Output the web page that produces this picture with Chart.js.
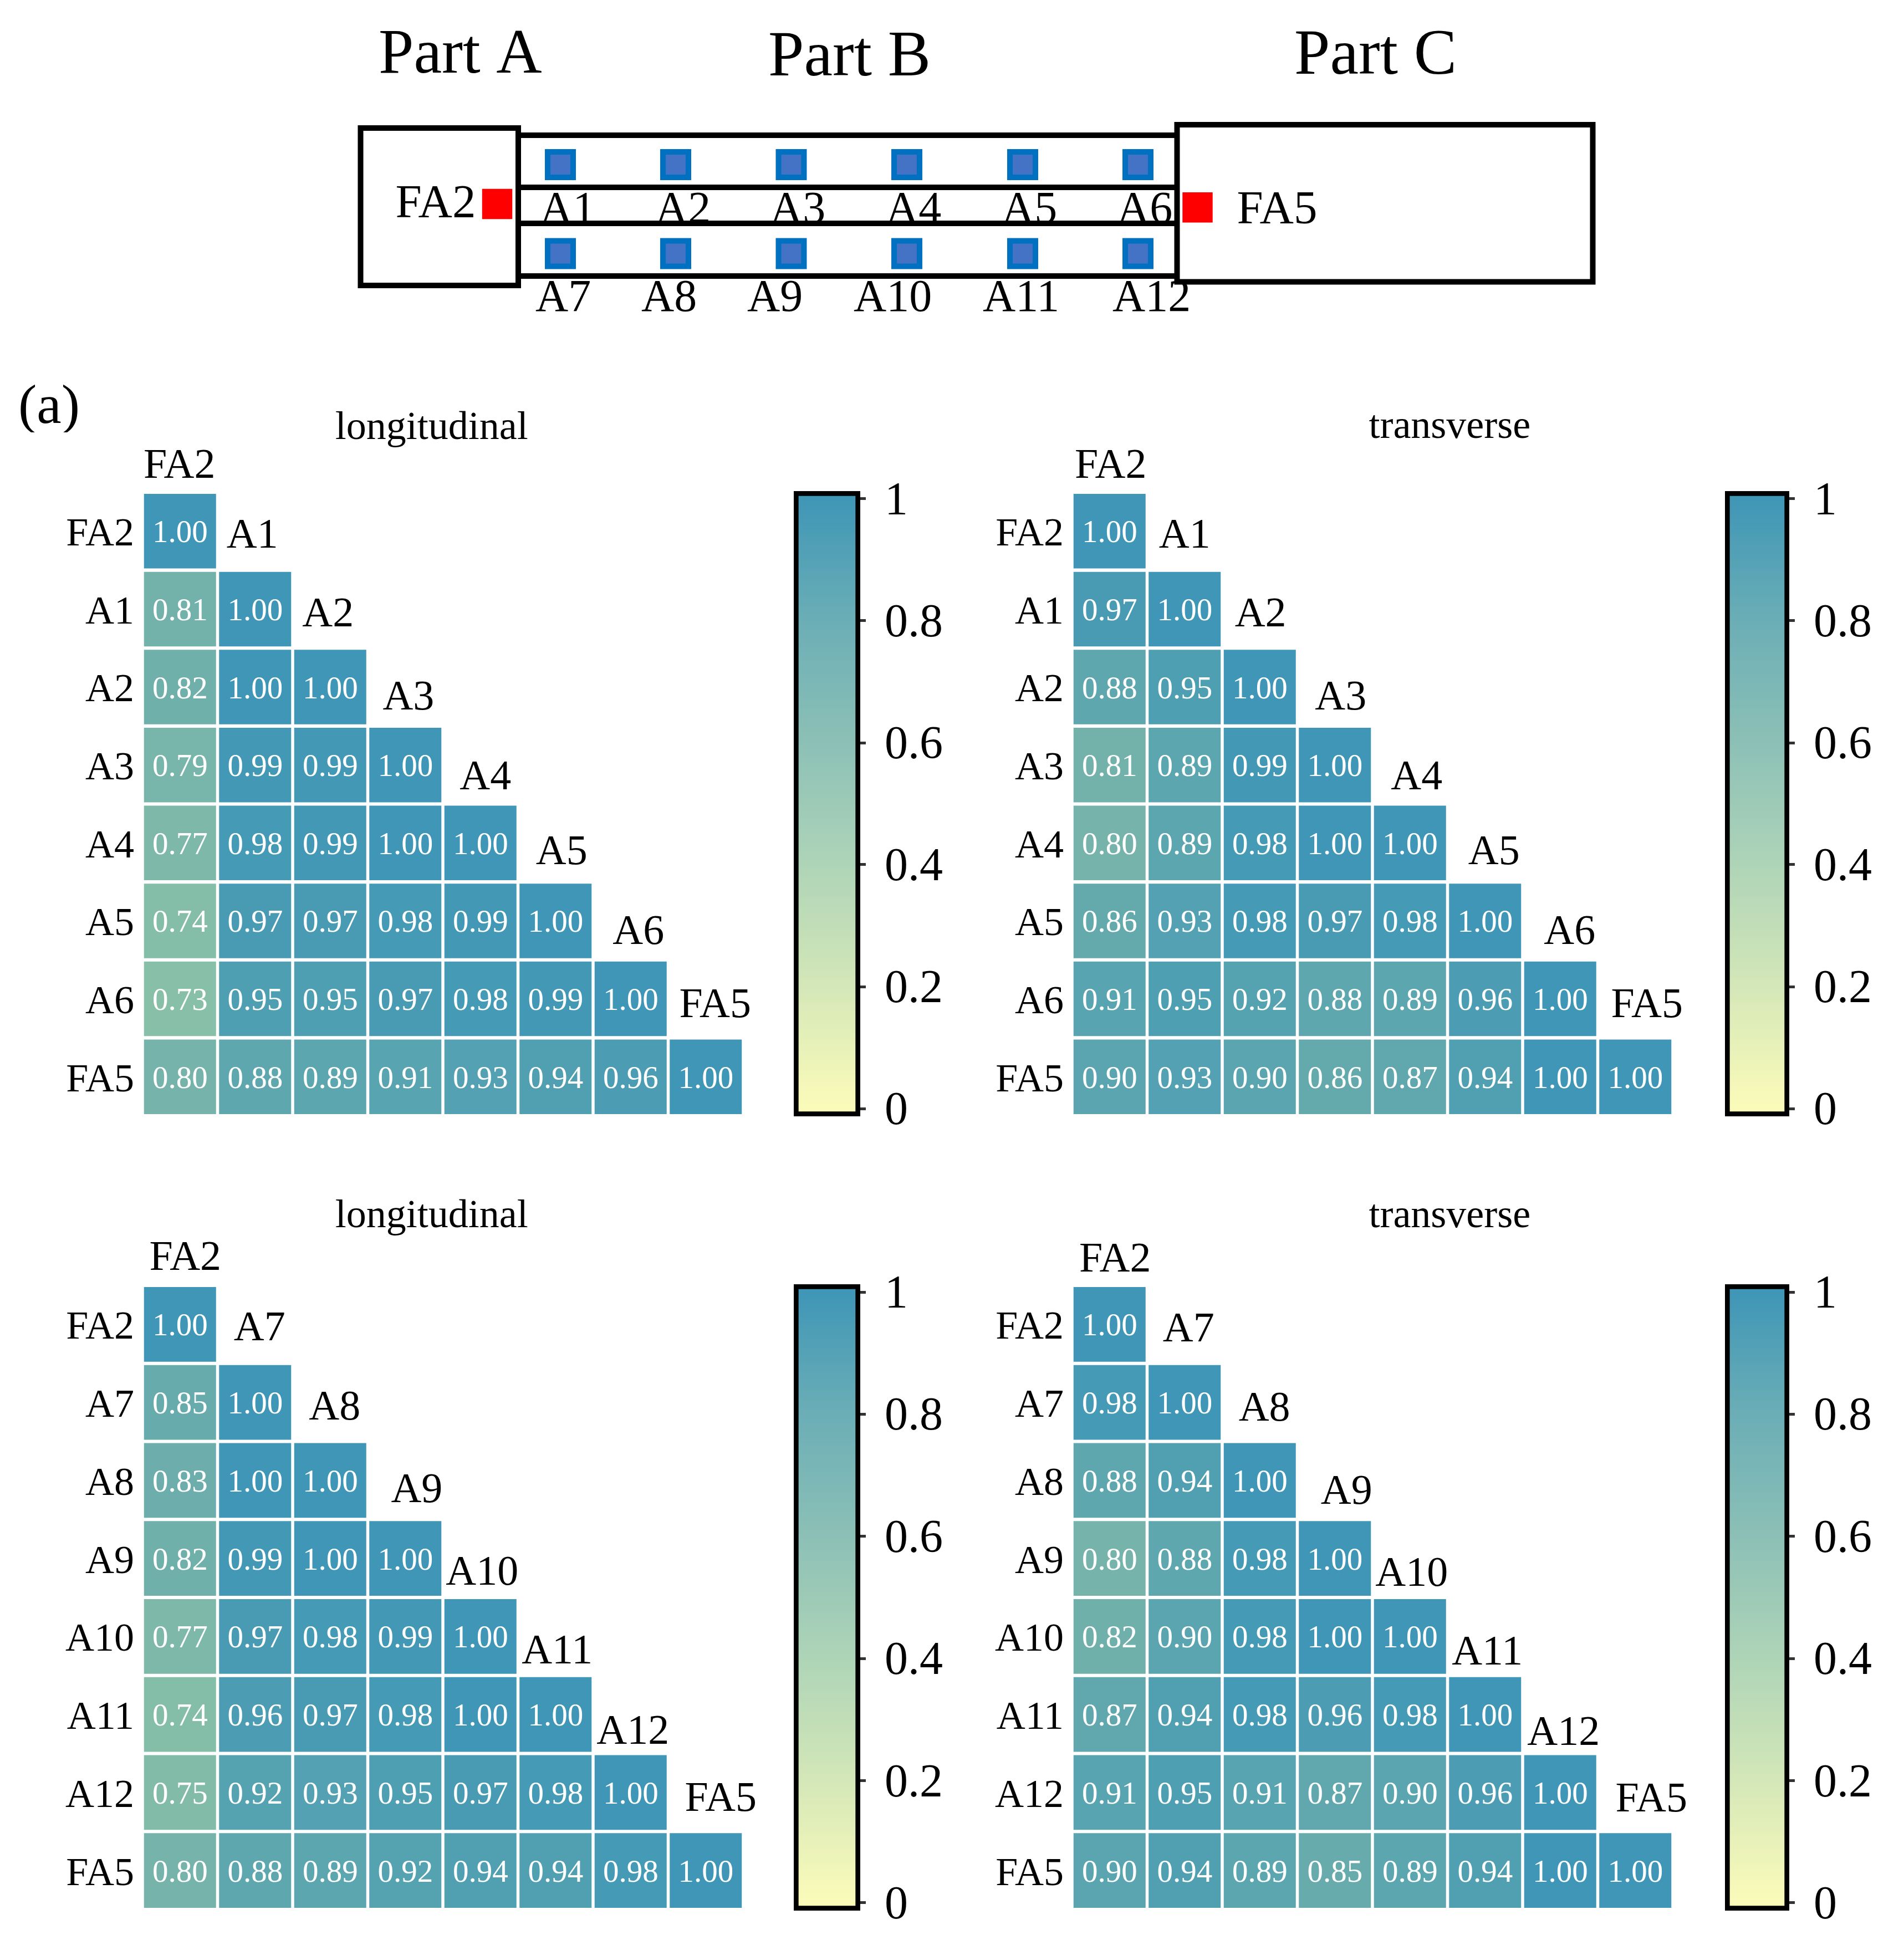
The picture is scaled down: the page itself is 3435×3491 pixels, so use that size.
<!DOCTYPE html>
<html>
<head>
<meta charset="utf-8">
<title>Correlation heatmaps</title>
<script src="https://cdn.jsdelivr.net/npm/chart.js@4"></script>
<style>
  html, body { margin: 0; padding: 0; background: #fff; }
  #page { position: relative; width: 3435px; height: 3491px; overflow: hidden; background: #fff; }
  canvas { position: absolute; }
</style>
</head>
<body>
<div id="page"></div>
<script>
const labelsUpper = ["FA2", "A1", "A2", "A3", "A4", "A5", "A6", "FA5"];
const labelsLower = ["FA2", "A7", "A8", "A9", "A10", "A11", "A12", "FA5"];

const longitudinalUpper = [
  [1.00],
  [0.81, 1.00],
  [0.82, 1.00, 1.00],
  [0.79, 0.99, 0.99, 1.00],
  [0.77, 0.98, 0.99, 1.00, 1.00],
  [0.74, 0.97, 0.97, 0.98, 0.99, 1.00],
  [0.73, 0.95, 0.95, 0.97, 0.98, 0.99, 1.00],
  [0.80, 0.88, 0.89, 0.91, 0.93, 0.94, 0.96, 1.00]
];
const transverseUpper = [
  [1.00],
  [0.97, 1.00],
  [0.88, 0.95, 1.00],
  [0.81, 0.89, 0.99, 1.00],
  [0.80, 0.89, 0.98, 1.00, 1.00],
  [0.86, 0.93, 0.98, 0.97, 0.98, 1.00],
  [0.91, 0.95, 0.92, 0.88, 0.89, 0.96, 1.00],
  [0.90, 0.93, 0.90, 0.86, 0.87, 0.94, 1.00, 1.00]
];
const longitudinalLower = [
  [1.00],
  [0.85, 1.00],
  [0.83, 1.00, 1.00],
  [0.82, 0.99, 1.00, 1.00],
  [0.77, 0.97, 0.98, 0.99, 1.00],
  [0.74, 0.96, 0.97, 0.98, 1.00, 1.00],
  [0.75, 0.92, 0.93, 0.95, 0.97, 0.98, 1.00],
  [0.80, 0.88, 0.89, 0.92, 0.94, 0.94, 0.98, 1.00]
];
const transverseLower = [
  [1.00],
  [0.98, 1.00],
  [0.88, 0.94, 1.00],
  [0.80, 0.88, 0.98, 1.00],
  [0.82, 0.90, 0.98, 1.00, 1.00],
  [0.87, 0.94, 0.98, 0.96, 0.98, 1.00],
  [0.91, 0.95, 0.91, 0.87, 0.90, 0.96, 1.00],
  [0.90, 0.94, 0.89, 0.85, 0.89, 0.94, 1.00, 1.00]
];

const colorbarTicks = [0, 0.2, 0.4, 0.6, 0.8, 1];

// schematic at the top, in page units
const sensorsTop = ["A1", "A2", "A3", "A4", "A5", "A6"];
const sensorsBottom = ["A7", "A8", "A9", "A10", "A11", "A12"];
const sensorX = [1011, 1219, 1427.5, 1636, 1845, 2053];
const sensorRowY = [297, 457.5];
const sensorTopLabelX = [974, 1182, 1389, 1598, 1807, 2015];
const sensorBottomLabelX = [966, 1157, 1348, 1540, 1773, 2007];
const forceSensors = [{ x: 897, y: 368 }, { x: 2160.5, y: 374.3 }];
const boxA = [[650.5, 231], [935, 231], [935, 515], [650.5, 515], [650.5, 231]];
const boxC = [[2123.5, 225], [2873.5, 225], [2873.5, 508.6], [2123.5, 508.6], [2123.5, 225]];
const railY = [244, 338, 403, 498];

const cellStops = [
  [0, "#fbfbb9"], [0.74, "#85bea8"], [0.81, "#73b1ab"],
  [0.88, "#5ea7ae"], [0.95, "#4f9fb3"], [1, "#3f96b6"]
];
const barStops = [
  [0, "#fbfbb9"], [0.2, "#d4e7b8"], [0.4, "#aed4b7"],
  [0.6, "#8cc0b6"], [0.8, "#6baeb6"], [1, "#3f96b6"]
];

const serif = '"Liberation Serif", "Times New Roman", serif';
const page = document.getElementById("page");
Chart.defaults.font.family = serif;
Chart.defaults.color = "#000";

function addCanvas(left, top, width, height) {
  const c = document.createElement("canvas");
  c.width = width;
  c.height = height;
  c.style.left = left + "px";
  c.style.top = top + "px";
  c.style.width = width + "px";
  c.style.height = height + "px";
  page.appendChild(c);
  return c;
}

function hexRgb(h) {
  return [1, 3, 5].map(i => parseInt(h.slice(i, i + 2), 16));
}

function cellColor(v) {
  for (let i = 1; i < cellStops.length; i++) {
    if (v <= cellStops[i][0]) {
      const [v0, c0] = cellStops[i - 1];
      const [v1, c1] = cellStops[i];
      const t = (v - v0) / (v1 - v0);
      const a = hexRgb(c0), b = hexRgb(c1);
      return "rgb(" + a.map((x, k) => Math.round(x + (b[k] - x) * t)).join(",") + ")";
    }
  }
  return cellStops[cellStops.length - 1][1];
}

function putText(ctx, text, x, y, size, align) {
  ctx.save();
  ctx.font = size + "px " + serif;
  ctx.fillStyle = "#000";
  ctx.textAlign = align || "left";
  ctx.textBaseline = "alphabetic";
  ctx.fillText(text, x, y);
  ctx.restore();
}

function drawDiagram() {
  const W = 3435, H = 780;
  const box = (pts, extra) => Object.assign({
    type: "line",
    data: pts.map(p => ({ x: p[0], y: p[1] })),
    borderColor: "#000",
    borderWidth: 10,
    pointRadius: 0,
    tension: 0,
    fill: false,
    borderJoinStyle: "miter",
    borderCapStyle: "square"
  }, extra || {});
  const rails = railY.map(y => box([[935, y], [2123, y]], { borderCapStyle: "butt" }));
  const sensorPts = [];
  sensorRowY.forEach(y => sensorX.forEach(x => sensorPts.push({ x: x, y: y })));

  const labels = {
    id: "diagramLabels",
    beforeDatasetsDraw(chart) {
      const ctx = chart.ctx, sx = chart.scales.x, sy = chart.scales.y;
      const at = (t, x, y, s) => putText(ctx, t, sx.getPixelForValue(x), sy.getPixelForValue(y), s);
      sensorsTop.forEach((t, i) => at(t, sensorTopLabelX[i], 402, 82));
      sensorsBottom.forEach((t, i) => at(t, sensorBottomLabelX[i], 561, 82));
      at("FA2", 713.6, 392, 85);
      at("FA5", 2231.6, 402.7, 85);
      at("Part A", 683, 131, 114);
      at("Part B", 1386, 135.6, 116);
      at("Part C", 2335, 133, 116);
      at("(a)", 33, 763, 100);
    }
  };

  new Chart(addCanvas(0, 0, W, H), {
    type: "scatter",
    data: {
      datasets: [
        box(boxA), box(boxC), ...rails,
        {
          data: sensorPts,
          pointStyle: "rect",
          pointRadius: 32.5,
          pointBorderWidth: 10,
          pointBackgroundColor: "#4472c4",
          pointBorderColor: "#0070c0"
        },
        {
          data: forceSensors,
          pointStyle: "rect",
          pointRadius: 38.5,
          pointBorderWidth: 0,
          pointBackgroundColor: "#ff0000"
        }
      ]
    },
    options: {
      responsive: false,
      animation: false,
      devicePixelRatio: 1,
      layout: { padding: 0, autoPadding: false },
      clip: false,
      scales: {
        x: { type: "linear", min: 0, max: W, display: false },
        y: { type: "linear", min: 0, max: H, reverse: true, display: false }
      },
      plugins: { legend: { display: false }, tooltip: { enabled: false } }
    },
    plugins: [labels]
  });
}

function drawHeatmap(p) {
  const pad = { left: 240, top: 170, right: 60, bottom: 10 };
  const cellW = 130;
  const gapY = 6;
  const w = 8 * p.pitchX, h = 8 * p.pitchY;
  const left = p.x0 - (p.pitchX - cellW) / 2 - pad.left;
  const top = p.y0 - gapY / 2 - pad.top;
  const canvas = addCanvas(left, top, Math.round(pad.left + w + pad.right), Math.round(pad.top + h + pad.bottom));
  const inset = (gapY / 2) / p.pitchY;

  const datasets = p.rows.map((row, r) => ({
    data: row.map(() => [r + inset, r + 1 - inset]),
    backgroundColor: row.map(cellColor),
    borderWidth: 0,
    barPercentage: cellW / p.pitchX,
    categoryPercentage: 1,
    grouped: false
  }));

  const cellText = {
    id: "cellText",
    afterDatasetsDraw(chart) {
      const ctx = chart.ctx, sx = chart.scales.x, sy = chart.scales.y;
      ctx.save();
      ctx.font = "57px " + serif;
      ctx.fillStyle = "#fff";
      ctx.textAlign = "center";
      ctx.textBaseline = "alphabetic";
      p.rows.forEach((row, r) => {
        const meta = chart.getDatasetMeta(r);
        row.forEach((v, c) => {
          const el = meta.data[c];
          ctx.fillText(v.toFixed(2), el.x, (el.y + el.base) / 2 + 20);
        });
      });
      ctx.restore();
      p.labels.forEach((t, i) => {
        const x = sx.getPixelForValue(i) + p.headDx[i];
        const y = sy.getPixelForValue(i) + p.headDy[i] + 3;
        putText(ctx, t, x, y, 76, "center");
      });
      putText(ctx, p.title, sx.getPixelForValue(0) - 65 + p.titleDx, sy.getPixelForValue(0) - p.titleUp + 5, 72, "center");
    }
  };

  new Chart(canvas, {
    type: "bar",
    data: { labels: p.labels, datasets: datasets },
    options: {
      responsive: false,
      animation: false,
      devicePixelRatio: 1,
      layout: { autoPadding: false, padding: { top: pad.top, right: pad.right, bottom: pad.bottom } },
      scales: {
        x: { type: "category", display: false },
        y: {
          type: "linear",
          min: 0,
          max: 8,
          reverse: true,
          afterFit(scale) {
            scale.width = pad.left;
            scale.paddingTop = 0;
            scale.paddingBottom = 0;
          },
          afterBuildTicks(scale) { scale.ticks = p.labels.map((_, i) => ({ value: i + 0.5 })); },
          grid: { display: false, drawTicks: false },
          border: { display: false },
          ticks: {
            autoSkip: false,
            padding: 15,
            labelOffset: 7,
            color: "#000",
            font: { size: 72, family: serif },
            callback: v => p.labels[Math.floor(v)]
          }
        }
      },
      plugins: { legend: { display: false }, tooltip: { enabled: false } }
    },
    plugins: [cellText]
  });
}

function drawColorbar(x, y, width, height) {
  const margin = 14 / 1100;
  const pad = 60;
  const canvas = addCanvas(x, y - pad, width + 230, height + 2 * pad);
  new Chart(canvas, {
    type: "bar",
    data: {
      labels: [""],
      datasets: [{
        data: [[-margin, 1 + margin]],
        barPercentage: 1,
        categoryPercentage: 1,
        borderWidth: 9,
        borderColor: "#000",
        borderSkipped: false,
        backgroundColor(ctx) {
          const area = ctx.chart.chartArea;
          if (!area) return barStops[0][1];
          const s = ctx.chart.scales.y;
          const g = ctx.chart.ctx.createLinearGradient(0, s.getPixelForValue(0), 0, s.getPixelForValue(1));
          barStops.forEach(st => g.addColorStop(st[0], st[1]));
          return g;
        }
      }]
    },
    options: {
      responsive: false,
      animation: false,
      devicePixelRatio: 1,
      layout: { autoPadding: false, padding: { top: pad, bottom: pad } },
      scales: {
        x: { type: "category", display: false },
        y: {
          type: "linear",
          position: "right",
          min: -margin,
          max: 1 + margin,
          afterFit(scale) {
            scale.width = 230;
            scale.paddingTop = 0;
            scale.paddingBottom = 0;
          },
          afterBuildTicks(scale) { scale.ticks = colorbarTicks.map(v => ({ value: v })); },
          border: { display: false },
          grid: { drawOnChartArea: false, drawTicks: true, tickLength: 10, tickWidth: 5, tickColor: "#333" },
          ticks: {
            autoSkip: false,
            padding: 34,
            labelOffset: 6,
            color: "#000",
            font: { size: 84, family: serif },
            callback: v => String(v)
          }
        }
      },
      plugins: { legend: { display: false }, tooltip: { enabled: false } }
    }
  });
}

drawDiagram();

drawHeatmap({
  rows: longitudinalUpper, labels: labelsUpper, title: "longitudinal",
  x0: 260, y0: 891, pitchX: 135.5, pitchY: 140.6, titleDx: 519, titleUp: 101.5,
  headDx: [-1, -5, -4, 5.6, 9, 11, 14, 17],
  headDy: [-29, -44, -42, -33, -30, -35, -32, -40]
});
drawHeatmap({
  rows: transverseUpper, labels: labelsUpper, title: "transverse",
  x0: 1937, y0: 891, pitchX: 135.5, pitchY: 140.6, titleDx: 678.6, titleUp: 103,
  headDx: [2, 0, 1.4, 10.5, 12, 16, 17, 21],
  headDy: [-29, -44, -42, -33, -30, -35, -32, -40]
});
drawHeatmap({
  rows: longitudinalLower, labels: labelsLower, title: "longitudinal",
  x0: 260, y0: 2322, pitchX: 135.5, pitchY: 140.75, titleDx: 519, titleUp: 110.5,
  headDx: [9.6, 8, 8, 20.6, 3, 3, 4, 27],
  headDy: [-31, -45, -43, -34, -26, -25, -21, -40]
});
drawHeatmap({
  rows: transverseLower, labels: labelsLower, title: "transverse",
  x0: 1937, y0: 2322, pitchX: 135.5, pitchY: 140.75, titleDx: 678.6, titleUp: 110.5,
  headDx: [10, 7, 8.4, 21, 3, 4, 6, 29],
  headDy: [-28, -43, -41, -31, -24, -23, -19, -39]
});

drawColorbar(1432, 886, 120, 1128);
drawColorbar(3112, 886, 116, 1128);
drawColorbar(1432, 2317, 120, 1130);
drawColorbar(3112, 2317, 116, 1130);
</script>
</body>
</html>
